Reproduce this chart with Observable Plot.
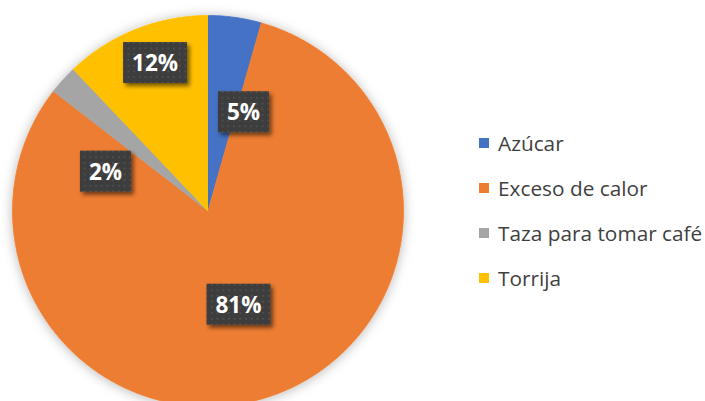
<!DOCTYPE html>
<html><head><meta charset="utf-8">
<script src="https://cdn.jsdelivr.net/npm/d3@7"></script>
<script src="https://cdn.jsdelivr.net/npm/@observablehq/plot@0.6"></script>
<style>
html,body{margin:0;padding:0;background:#fff;}
#wrap{position:relative;width:705px;height:401px;overflow:hidden;}
#wrap svg{display:block;}
#legend{position:absolute;left:479px;top:120.5px;font-family:"Open Sans",sans-serif;font-size:20.8px;color:#3f3f3f;}
.item{height:45px;display:flex;align-items:center;white-space:nowrap;}
.sw{width:10px;height:10px;margin-right:9px;flex:none;}
</style></head><body><div id="wrap"></div>
<script>
const categories = ["Azúcar", "Exceso de calor", "Taza para tomar café", "Torrija"];
const values = [4.4, 81.1, 2.4, 12.1];
const labels = ["5%", "81%", "2%", "12%"];
const colors = ["#4472C4", "#ED7D31", "#A5A5A5", "#FFC000"];
// label layout (Excel "best fit" placement): angle shift from slice middle (deg) and radius fraction
const labelAngleShift = [12, 0.3, -21.5, 2];
const labelRadius = [0.533, 0.508, 0.56, 0.80];

const cx = 207.5, cy = 210.5, R = 195.5;

const rows = categories.map((c, i) => ({cat: c, value: values[i], label: labels[i], i}));
const arcs = d3.pie().sort(null).value(d => d.value)(rows);

const pts = [];
arcs.forEach(a => {
  pts.push({cat: a.data.cat, x: 0, y: 0});
  const n = Math.max(2, Math.ceil((a.endAngle - a.startAngle) / (Math.PI / 360)));
  for (let k = 0; k <= n; k++) {
    const t = a.startAngle + (a.endAngle - a.startAngle) * k / n;
    pts.push({cat: a.data.cat, x: Math.sin(t), y: Math.cos(t)});
  }
});

const labelRows = arcs.map(a => {
  const i = a.data.i;
  const t = (a.startAngle + a.endAngle) / 2 + labelAngleShift[i] * Math.PI / 180;
  return {label: a.data.label, x: labelRadius[i] * Math.sin(t), y: labelRadius[i] * Math.cos(t)};
});

const plot = Plot.plot({
  width: 705,
  height: 401,
  x: {domain: [-1, 1], range: [cx - R, cx + R], axis: null},
  y: {domain: [-1, 1], range: [cy + R, cy - R], axis: null},
  color: {domain: categories, range: colors},
  style: {background: "#fff", overflow: "hidden"},
  marks: [
    Plot.line(pts, {x: "x", y: "y", z: "cat", fill: "cat", stroke: "cat", strokeWidth: 0.8, curve: "linear"}),
    Plot.text(labelRows, {x: "x", y: "y", text: "label", fill: "white", fontSize: 22.5, fontWeight: "bold", fontFamily: "Open Sans"})
  ]
});

document.getElementById("wrap").appendChild(plot);

const svg = d3.select(plot);
const defs = svg.insert("defs", ":first-child");
const f1 = defs.append("filter").attr("id", "pieShadow").attr("x", "-15%").attr("y", "-15%").attr("width", "130%").attr("height", "130%");
f1.append("feDropShadow").attr("dx", 0).attr("dy", 1).attr("stdDeviation", 6).attr("flood-color", "#000").attr("flood-opacity", 0.28);
const f2 = defs.append("filter").attr("id", "boxShadow").attr("x", "-30%").attr("y", "-30%").attr("width", "160%").attr("height", "160%");
f2.append("feDropShadow").attr("dx", 2.5).attr("dy", 3).attr("stdDeviation", 2).attr("flood-color", "#000").attr("flood-opacity", 0.55);
const pat = defs.append("pattern").attr("id", "dots").attr("patternUnits", "userSpaceOnUse").attr("width", 5.7).attr("height", 5.7);
pat.append("rect").attr("width", 5.7).attr("height", 5.7).attr("fill", "#3d3d3d");
pat.append("rect").attr("x", 1).attr("y", 1).attr("width", 1.6).attr("height", 1.6).attr("fill", "#555");

const lineG = plot.querySelector('g[aria-label="line"]');
if (lineG) lineG.setAttribute("filter", "url(#pieShadow)");

plot.querySelectorAll('g[aria-label="text"] text').forEach(t => {
  const b = t.getBBox();
  const w = b.width + 18, h = 41;
  const r = document.createElementNS("http://www.w3.org/2000/svg", "rect");
  r.setAttribute("x", b.x + b.width / 2 - w / 2);
  r.setAttribute("y", b.y + b.height / 2 - h / 2);
  r.setAttribute("width", w);
  r.setAttribute("height", h);
  r.setAttribute("fill", "url(#dots)");
  r.setAttribute("filter", "url(#boxShadow)");
  if (t.getAttribute("transform")) r.setAttribute("transform", t.getAttribute("transform"));
  t.parentNode.insertBefore(r, t);
});

const legend = document.createElement("div");
legend.id = "legend";
categories.forEach((c, i) => {
  const it = document.createElement("div");
  it.className = "item";
  const sw = document.createElement("span");
  sw.className = "sw";
  sw.style.background = colors[i];
  const tx = document.createElement("span");
  tx.textContent = c;
  it.appendChild(sw); it.appendChild(tx);
  legend.appendChild(it);
});
document.getElementById("wrap").appendChild(legend);
</script>
</body></html>
